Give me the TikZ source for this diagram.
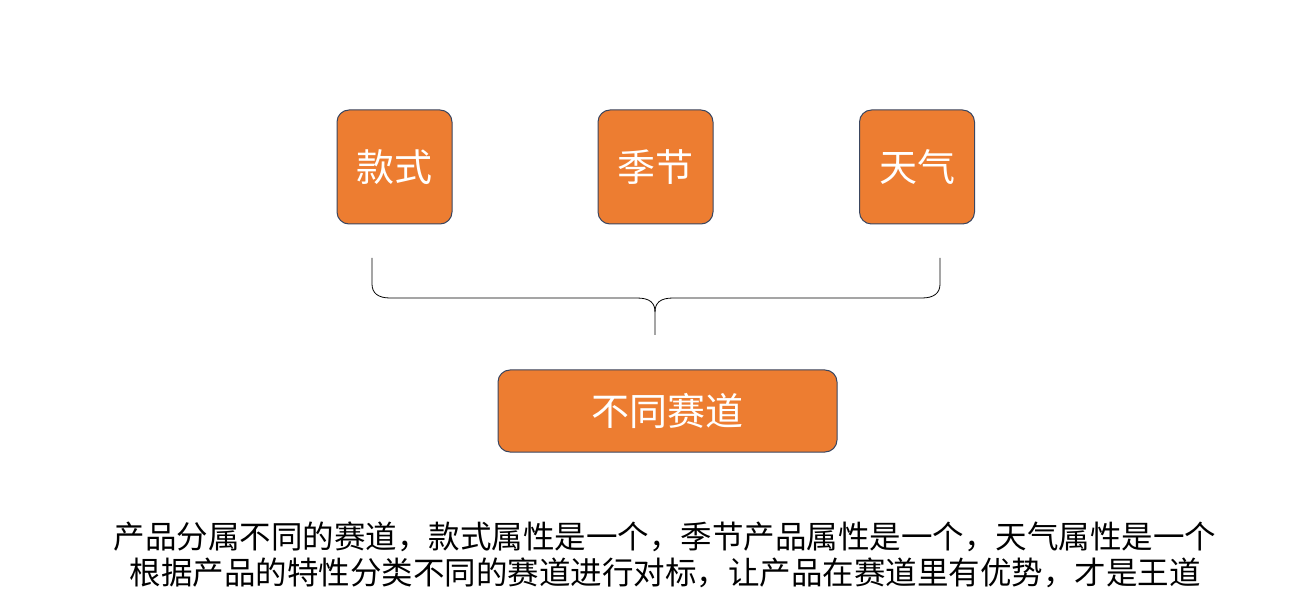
\documentclass[tikz,border=0pt]{standalone}
\usepackage{fontspec}
\newfontfamily\cjk{Noto Sans CJK SC}
\definecolor{boxor}{HTML}{ED7D31}
\definecolor{boxln}{HTML}{3A4660}
\begin{document}
\begin{tikzpicture}[x=1pt,y=-1pt,
  ob/.style={draw=boxln,line width=1pt,fill=boxor,rounded corners=12pt,text=white,font=\cjk\fontsize{38}{44}\selectfont,inner sep=0pt}]
\useasboundingbox[fill=white] (0,0) rectangle (1290,609);
\node[ob,minimum width=115,minimum height=114] (a) at (394.5,167) {款式};
\node[ob,minimum width=115,minimum height=114] (b) at (655.5,167) {季节};
\node[ob,minimum width=115,minimum height=114] (c) at (917,167) {天气};
\node[ob,minimum width=339,minimum height=82] (d) at (667.5,411) {不同赛道};
\coordinate (bl) at (372,258);
\coordinate (br) at (940,258);
\coordinate (bt) at (655,335);
\draw[black,line width=0.8pt] (bl) -- (372,284) .. controls (372,293) and (378,298) .. (390,298) -- (637,298) .. controls (650,298) and (655,303) .. (655,312) -- (bt);
\draw[black,line width=0.8pt] (br) -- (940,284) .. controls (940,293) and (934,298) .. (922,298) -- (673,298) .. controls (660,298) and (655,303) .. (655,312);
\node[font=\cjk\fontsize{31.5}{36}\selectfont,align=center,text=black,inner sep=0pt] (t) at (665,555) {产品分属不同的赛道，款式属性是一个，季节产品属性是一个，天气属性是一个\\根据产品的特性分类不同的赛道进行对标，让产品在赛道里有优势，才是王道};
\end{tikzpicture}
\end{document}
